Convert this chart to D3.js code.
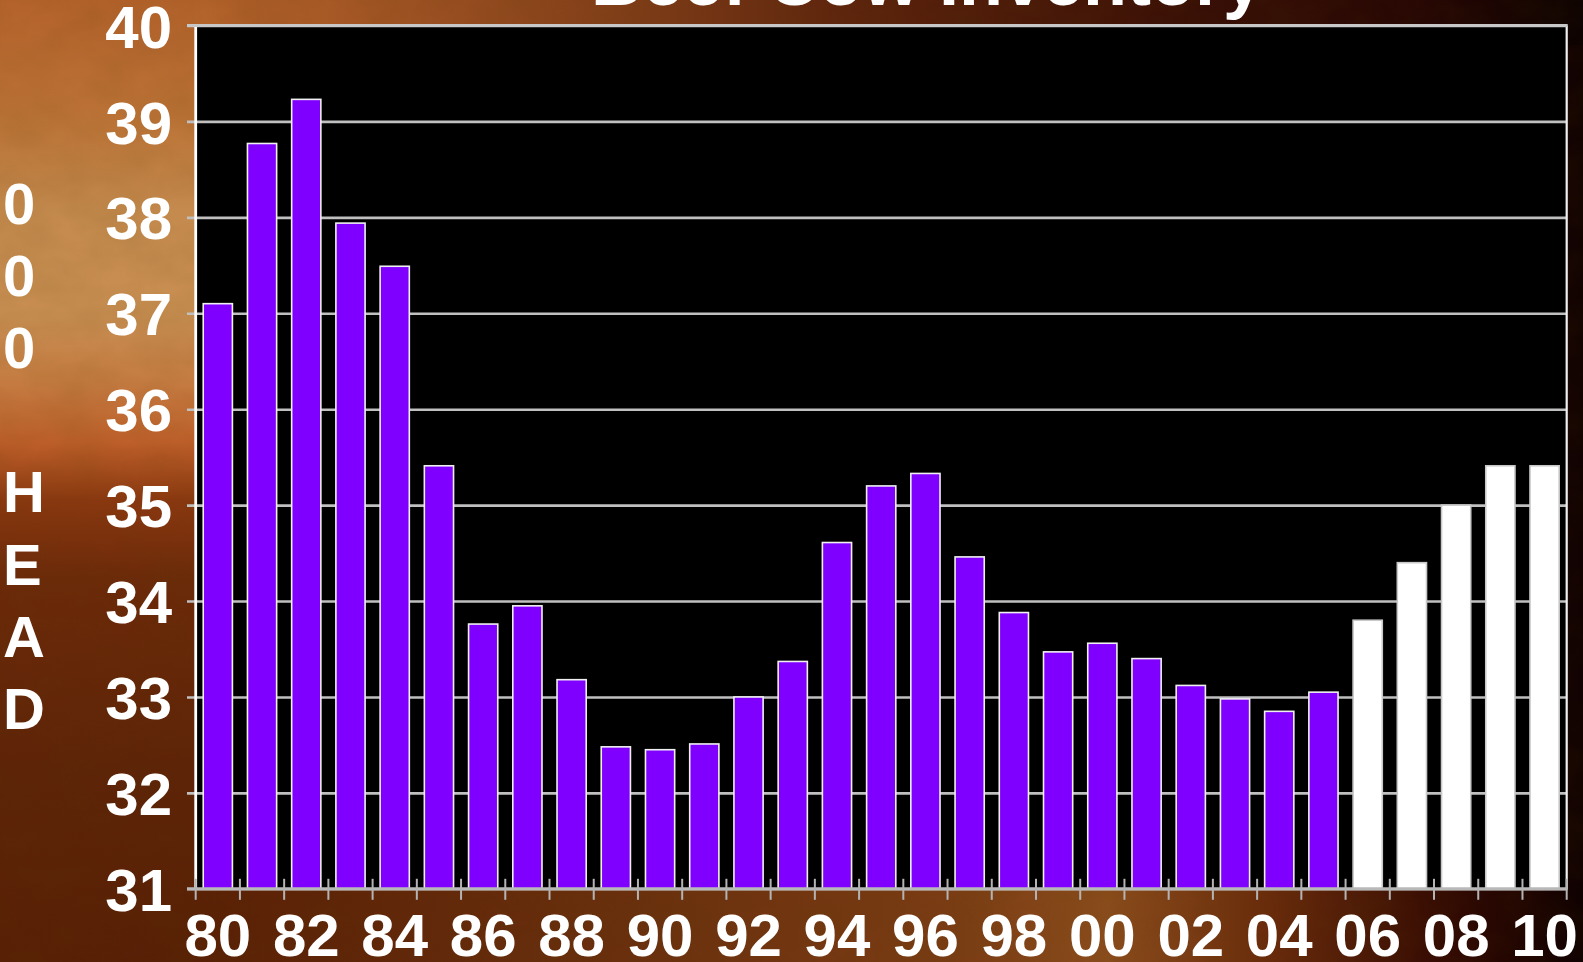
<!DOCTYPE html>
<html>
<head>
<meta charset="utf-8">
<script src="https://cdn.jsdelivr.net/npm/d3@7/dist/d3.min.js"></script>
<style>
  html, body { margin: 0; padding: 0; background: #000; overflow: hidden; }
  svg { display: block; }
  text { font-family: "Liberation Sans", Arial, sans-serif; font-weight: bold; fill: #fff; }
</style>
</head>
<body>
<svg id="chart" width="1583" height="962"></svg>
<script>
// ---- Data ----
const title = "Beef Cow Inventory";
const yTitleLines = ["0", "0", "0", "", "H", "E", "A", "D"];
const years = [1980,1981,1982,1983,1984,1985,1986,1987,1988,1989,1990,1991,1992,1993,1994,
               1995,1996,1997,1998,1999,2000,2001,2002,2003,2004,2005,2006,2007,2008,2009,2010];
const inventory = [37.10,38.77,39.23,37.94,37.49,35.41,33.76,33.95,33.18,32.48,32.45,32.51,33.00,33.37,34.61,
                   35.20,35.33,34.46,33.88,33.47,33.56,33.40,33.12,32.98,32.85,33.05,33.80,34.40,35.00,35.41,35.41];
const projectedFrom = 2006;
const yTicks = [31,32,33,34,35,36,37,38,39,40];
const xTickYears = [1980,1982,1984,1986,1988,1990,1992,1994,1996,1998,2000,2002,2004,2006,2008,2010];

// ---- Layout ----
const W = 1583, H = 962;
const plot = { left: 195.7, right: 1566.7, top: 25.5, bottom: 888.8 };

const svg = d3.select("#chart");
const defs = svg.append("defs");

// Background: warm textured-looking gradients
const base = defs.append("linearGradient").attr("id","bgBase").attr("x1","0").attr("x2","1").attr("y1","0").attr("y2","0");
[["0%","#b4642c"],["25%","#8c4418"],["50%","#6a2c0e"],["75%","#3e1206"],["92%","#200604"],["100%","#120302"]]
  .forEach(([o,c]) => base.append("stop").attr("offset",o).attr("stop-color",c));

const left = defs.append("linearGradient").attr("id","bgLeft").attr("x1","0").attr("x2","0").attr("y1","0").attr("y2","1");
[["0%","#b3622b"],["12%","#bb7236"],["22%","#c48a4e"],["33%","#c88e52"],["40%","#c47a40"],["46%","#bd5f2a"],
 ["52%","#8a3810"],["60%","#6c2a0a"],["80%","#5e2408"],["100%","#582006"]]
  .forEach(([o,c]) => left.append("stop").attr("offset",o).attr("stop-color",c));

const leftFade = defs.append("linearGradient").attr("id","leftFade").attr("x1","0").attr("x2","1").attr("y1","0").attr("y2","0");
leftFade.append("stop").attr("offset","0%").attr("stop-color","#fff").attr("stop-opacity",1);
leftFade.append("stop").attr("offset","75%").attr("stop-color","#fff").attr("stop-opacity",1);
leftFade.append("stop").attr("offset","100%").attr("stop-color","#fff").attr("stop-opacity",0);
defs.append("mask").attr("id","leftMask").append("rect")
  .attr("x",0).attr("y",0).attr("width",260).attr("height",H).attr("fill","url(#leftFade)");

const bottomG = defs.append("linearGradient").attr("id","bgBottom").attr("x1","0").attr("x2","1").attr("y1","0").attr("y2","0");
[["0%","#582006"],["20%","#5e2408"],["40%","#6a300e"],["60%","#7a3c14"],["70%","#8a4c1c"],["80%","#6a2c0c"],
 ["90%","#3a0e04"],["96%","#200402"],["100%","#100202"]]
  .forEach(([o,c]) => bottomG.append("stop").attr("offset",o).attr("stop-color",c));

const topG = defs.append("linearGradient").attr("id","bgTop").attr("x1","0").attr("x2","1").attr("y1","0").attr("y2","0");
[["0%","#b4642c"],["20%","#a85a26"],["38%","#84401a"],["55%","#5a220c"],["75%","#3a1006"],["90%","#260604"],["100%","#0c0202"]]
  .forEach(([o,c]) => topG.append("stop").attr("offset",o).attr("stop-color",c));

// subtle texture
const f = defs.append("filter").attr("id","noise").attr("x","0").attr("y","0").attr("width","100%").attr("height","100%");
f.append("feTurbulence").attr("type","fractalNoise").attr("baseFrequency","0.02 0.03").attr("numOctaves",3).attr("seed",4).attr("result","n");
f.append("feColorMatrix").attr("type","matrix")
  .attr("values","0 0 0 0 0.1  0 0 0 0 0.05  0 0 0 0 0  0 0 0 0.35 -0.1");

svg.append("rect").attr("width",W).attr("height",H).attr("fill","url(#bgBase)");
svg.append("rect").attr("x",0).attr("y",0).attr("width",W).attr("height",plot.top+20).attr("fill","url(#bgTop)");
svg.append("rect").attr("x",0).attr("y",plot.bottom-10).attr("width",W).attr("height",H-plot.bottom+10).attr("fill","url(#bgBottom)");
svg.append("rect").attr("x",0).attr("y",0).attr("width",260).attr("height",H)
  .attr("fill","url(#bgLeft)").attr("mask","url(#leftMask)");
svg.append("rect").attr("width",W).attr("height",H).attr("filter","url(#noise)").attr("opacity",0.5);

// ---- Scales ----
const x = d3.scaleBand().domain(years).range([plot.left, plot.right]).paddingInner(0.34).paddingOuter(0.17);
const y = d3.scaleLinear().domain([31, 40]).range([plot.bottom, plot.top]);

// Title (mostly clipped at top, like the reference)
svg.append("text").attr("x", 927).attr("y", 5).attr("text-anchor","middle")
  .style("font-size","72px").text(title);

// Plot background
svg.append("rect").attr("x",plot.left).attr("y",plot.top).attr("width",plot.right-plot.left)
  .attr("height",plot.bottom-plot.top).attr("fill","#000");

// Y axis with gridlines (axis placed at right edge, ticks reach left past plot)
const yAxis = d3.axisLeft(y).tickValues(yTicks).tickFormat(d3.format("d"))
  .tickSize(plot.right - 187).tickSizeOuter(0).tickPadding(15);
const gy = svg.append("g").attr("transform",`translate(${plot.right},0)`).call(yAxis);
gy.select(".domain").remove();
gy.selectAll(".tick line").attr("stroke","#c0c0c0").attr("stroke-width",2.6);
gy.selectAll(".tick text").attr("fill","#fff").attr("dy","0.36em")
  .style("font-size","60px").style("font-family","'Liberation Sans', Arial, sans-serif").style("font-weight","bold");

// Bars
svg.append("g").selectAll("rect").data(years).join("rect")
  .attr("x", d => x(d))
  .attr("width", x.bandwidth())
  .attr("y", (d,i) => y(inventory[i]))
  .attr("height", (d,i) => y(31) - y(inventory[i]))
  .attr("fill", d => d >= projectedFrom ? "#ffffff" : "#8000ff")
  .attr("stroke", d => d >= projectedFrom ? "#c8c8c8" : "#f0f0f0")
  .attr("stroke-width", 1.6);

// Plot frame: left white, right white, top gray
svg.append("line").attr("x1",plot.left).attr("x2",plot.left).attr("y1",plot.top).attr("y2",plot.bottom)
  .attr("stroke","#fff").attr("stroke-width",2.8);
svg.append("line").attr("x1",plot.right).attr("x2",plot.right).attr("y1",plot.top).attr("y2",plot.bottom)
  .attr("stroke","#f0f0f0").attr("stroke-width",2.2);
svg.append("line").attr("x1",187).attr("x2",plot.right+1).attr("y1",plot.top).attr("y2",plot.top)
  .attr("stroke","#c8c8c8").attr("stroke-width",3);

// X axis: labels at band centers of even years
const xAxis = d3.axisBottom(x).tickValues(xTickYears)
  .tickFormat(d => String(d % 100).padStart(2,"0")).tickSize(0).tickPadding(25);
const gx = svg.append("g").attr("transform",`translate(0,${plot.bottom})`).call(xAxis);
gx.select(".domain").remove();
gx.selectAll(".tick text").attr("fill","#fff")
  .style("font-size","60px").style("font-family","'Liberation Sans', Arial, sans-serif").style("font-weight","bold");

// Axis line and crossing tick marks at band edges
svg.append("line").attr("x1",187).attr("x2",plot.right+1).attr("y1",plot.bottom).attr("y2",plot.bottom)
  .attr("stroke","#b8b8b8").attr("stroke-width",3);
const gap = (x.step() - x.bandwidth()) / 2;
const edges = years.map(d => x(d) - gap).concat([x(years[years.length-1]) + x.bandwidth() + gap]);
svg.append("g").selectAll("line").data(edges).join("line")
  .attr("x1", d => d).attr("x2", d => d)
  .attr("y1", plot.bottom - 10).attr("y2", plot.bottom + 11)
  .attr("stroke","#b4b4b4").attr("stroke-width",2);

// Y axis title: stacked letters
svg.append("g").selectAll("text").data(yTitleLines).join("text")
  .attr("x", 3).attr("y", (d,i) => 223.5 + i * 72.2)
  .style("font-size","58px").text(d => d);
</script>
</body>
</html>
